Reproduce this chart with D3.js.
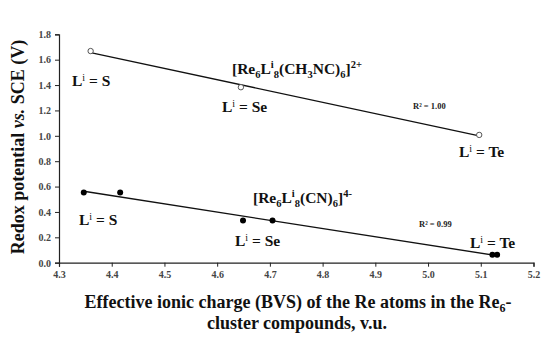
<!DOCTYPE html>
<html><head><meta charset="utf-8">
<script src="https://cdn.jsdelivr.net/npm/d3@7"></script>
<style>body{margin:0;background:#fff}svg{display:block}</style>
</head><body>
<script>
// Data
const cationX = [4.36, 4.645, 5.097];
const cationY = [1.668, 1.383, 1.007];
const anionX = [4.347, 4.416, 4.649, 4.705, 5.122, 5.131];
const anionY = [0.553, 0.553, 0.332, 0.332, 0.063, 0.063];
const xTicks = [4.3, 4.4, 4.5, 4.6, 4.7, 4.8, 4.9, 5.0, 5.1, 5.2];
const yTicks = [0.0, 0.2, 0.4, 0.6, 0.8, 1.0, 1.2, 1.4, 1.6, 1.8];
const r2Labels = ["R² = 1.00", "R² = 0.99"];

const FF = '"Liberation Serif", "Times New Roman", serif';
const W = 550, H = 345;
const svg = d3.select("body").append("svg").attr("width", W).attr("height", H);
const x = d3.scaleLinear().domain([4.3, 5.2]).range([59, 533.5]);
const y = d3.scaleLinear().domain([0, 1.8]).range([262.7, 34.3]);

function fit(xs, ys) {
  const n = xs.length, mx = d3.mean(xs), my = d3.mean(ys);
  let sxy = 0, sxx = 0;
  for (let i = 0; i < n; i++) { sxy += (xs[i]-mx)*(ys[i]-my); sxx += (xs[i]-mx)**2; }
  const b = sxy/sxx, a = my - b*mx;
  return t => a + b*t;
}
function txt(px, py, size) {
  return svg.append("text").attr("x", px).attr("y", py)
    .style("font-family", FF).style("font-weight", "bold").style("font-size", size + "px").attr("fill", "#111");
}

// axes
const xAxis = svg.append("g").attr("transform", `translate(0,${y(0)})`)
  .call(d3.axisBottom(x).tickValues(xTicks).tickFormat(d3.format(".1f")).tickSizeOuter(0).tickSize(4));
const yAxis = svg.append("g").attr("transform", `translate(${x(4.3)},0)`)
  .call(d3.axisLeft(y).tickValues(yTicks).tickFormat(d3.format(".1f")).tickSizeOuter(0).tickSize(4));
[xAxis, yAxis].forEach(g => {
  g.select(".domain").attr("stroke", "#222").attr("stroke-width", 1.2);
  g.selectAll(".tick line").attr("stroke", "#222").attr("stroke-width", 1);
  g.selectAll(".tick text").attr("fill", "#444").style("font-size", "10px")
    .style("font-family", FF).style("font-weight", "bold");
});
xAxis.selectAll(".tick text").attr("dy", "0").attr("y", 15);
yAxis.selectAll(".tick text").attr("x", -8).attr("dy", "0.33em");

// trend lines
[[cationX, cationY], [anionX, anionY]].forEach(([xs, ys]) => {
  const f = fit(xs, ys);
  const x0 = d3.min(xs), x1 = d3.max(xs);
  svg.append("line").attr("x1", x(x0)).attr("y1", y(f(x0))).attr("x2", x(x1)).attr("y2", y(f(x1)))
    .attr("stroke", "#111").attr("stroke-width", 1.3);
});

// markers
svg.selectAll(".cat").data(cationX).enter().append("circle")
  .attr("cx", d => x(d)).attr("cy", (d, i) => y(cationY[i])).attr("r", 2.7)
  .attr("fill", "#fff").attr("stroke", "#555").attr("stroke-width", 1);
svg.selectAll(".an").data(anionX).enter().append("circle")
  .attr("cx", d => x(d)).attr("cy", (d, i) => y(anionY[i])).attr("r", 3)
  .attr("fill", "#000");

// labels
function liLabel(px, py, elem) {
  const t = txt(px, py, 15.5);
  t.append("tspan").text("L");
  t.append("tspan").text("i").attr("dy", -5).style("font-size", "10px").style("font-weight", "normal");
  t.append("tspan").text(" = " + elem).attr("dy", 5);
}
liLabel(72, 86, "S");
liLabel(222, 112, "Se");
liLabel(459, 157, "Te");
liLabel(79, 225, "S");
liLabel(235, 246, "Se");
liLabel(470, 248, "Te");

function formula(px, py, parts) {
  const t = txt(px, py, 15.5);
  let cur = 0;
  parts.forEach(([s, shift]) => {
    const sz = shift === 0 ? "15.5px" : "10.5px";
    t.append("tspan").text(s).attr("dy", shift - cur).style("font-size", sz);
    cur = shift;
  });
}
formula(232, 74, [["[Re", 0], ["6", 4], ["L", 0], ["i", -6], ["8", 4], ["(CH", 0], ["3", 4], ["NC)", 0], ["6", 4], ["]", 0], ["2+", -6]]);
formula(253, 203, [["[Re", 0], ["6", 4], ["L", 0], ["i", -6], ["8", 4], ["(CN)", 0], ["6", 4], ["]", 0], ["4-", -6]]);

txt(413, 109, 8.5).attr("fill", "#222").text(r2Labels[0]);
txt(419, 227, 8.5).attr("fill", "#222").text(r2Labels[1]);

// axis titles
const yt = txt(0, 0, 18).attr("x", null).attr("y", null)
  .attr("transform", "translate(24,147) rotate(-90)").attr("text-anchor", "middle");
yt.append("tspan").text("Redox potential ");
yt.append("tspan").text("vs.").style("font-style", "italic");
yt.append("tspan").text(" SCE (V)");

const xt = txt(298, 308, 18).attr("text-anchor", "middle");
xt.append("tspan").text("Effective ionic charge (BVS) of the Re atoms in the Re");
xt.append("tspan").text("6").attr("dy", 4).style("font-size", "12px");
xt.append("tspan").text("-").attr("dy", -4);
txt(297, 329, 18).attr("text-anchor", "middle").text("cluster compounds, v.u.");
</script>
</body></html>
